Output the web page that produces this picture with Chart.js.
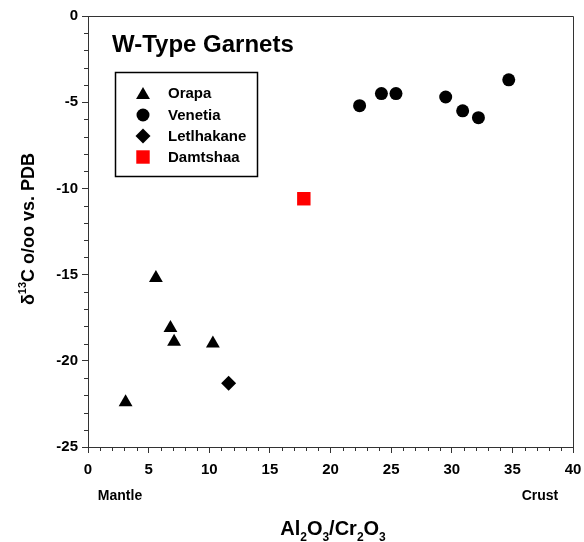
<!DOCTYPE html>
<html>
<head>
<meta charset="utf-8">
<script src="https://cdn.jsdelivr.net/npm/chart.js@4/dist/chart.umd.min.js"></script>
<style>
  body { margin: 0; background: #fff; }
  #wrap { width: 584px; height: 542px; }
</style>
</head>
<body>
<div id="wrap"><canvas id="chart" width="584" height="542"></canvas></div>
<script>
//data: [Al2O3/Cr2O3, d13C]
const orapa = [[3.1, -22.4], [5.6, -15.2], [6.8, -18.1], [7.1, -18.9], [10.3, -19.0]];
const venetia = [[22.4, -5.2], [24.2, -4.5], [25.4, -4.5], [29.5, -4.7], [30.9, -5.5], [32.2, -5.9], [34.7, -3.7]];
const letlhakane = [[11.6, -21.3]];
const damtshaa = [[17.8, -10.6]];

const seriesNames = ['Orapa', 'Venetia', 'Letlhakane', 'Damtshaa'];
const xTicks = [0, 5, 10, 15, 20, 25, 30, 35, 40];
const yTicks = [0, -5, -10, -15, -20, -25];

const FONT = '"Liberation Sans", Arial, sans-serif';

//turn [x, y] pairs into chart.js points
const toPoints = (arr) => arr.map((p) => ({ x: p[0], y: p[1] }));

//marker looks, shared by the chart and the hand drawn legend
const MARKERS = [
    { style: 'triangle', radius: 8, color: '#000' },
    { style: 'circle', radius: 6.5, color: '#000' },
    { style: 'rectRot', radius: 7.5, color: '#000' },
    { style: 'rect', radius: 9.5, color: '#ff0000' },
];

const drawMarker = (ctx, m, x, y) => {
    const r = m.radius;
    ctx.save();
    ctx.fillStyle = m.color;
    ctx.beginPath();
    if (m.style === 'triangle') {
        ctx.moveTo(x, y - r);
        ctx.lineTo(x + 0.866 * r, y + 0.5 * r);
        ctx.lineTo(x - 0.866 * r, y + 0.5 * r);
    } else if (m.style === 'circle') {
        ctx.arc(x, y, r, 0, Math.PI * 2);
    } else if (m.style === 'rectRot') {
        ctx.moveTo(x - r, y);
        ctx.lineTo(x, y - r);
        ctx.lineTo(x + r, y);
        ctx.lineTo(x, y + r);
    } else {
        const s = Math.SQRT1_2 * r;
        ctx.rect(x - s, y - s, 2 * s, 2 * s);
    }
    ctx.closePath();
    ctx.fill();
    ctx.restore();
};

//draws a list of [text, kind] pieces where kind is '', 'sub' or 'sup'
const pieceFont = (kind, size) => `bold ${kind ? Math.round(size * 0.62) : size}px ${FONT}`;
const measurePieces = (ctx, pieces, size) => pieces.reduce((w, p) => {
    ctx.font = pieceFont(p[1], size);
    return w + ctx.measureText(p[0]).width;
}, 0);
const drawPieces = (ctx, pieces, size, x, y) => {
    let cx = x;
    pieces.forEach((p) => {
        ctx.font = pieceFont(p[1], size);
        let dy = 0;
        if (p[1] === 'sub') dy = size * 0.3;
        if (p[1] === 'sup') dy = -size * 0.42;
        ctx.fillText(p[0], cx, y + dy);
        cx += ctx.measureText(p[0]).width;
    });
};

const extras = {
    id: 'extras',
    afterDraw(chart) {
        const ctx = chart.ctx;
        const area = chart.chartArea;
        const xs = chart.scales.x;
        const ys = chart.scales.y;
        ctx.save();

        //top and right frame lines
        ctx.strokeStyle = '#333';
        ctx.lineWidth = 1;
        ctx.beginPath();
        ctx.moveTo(area.left, area.top + 0.5);
        ctx.lineTo(area.right + 0.5, area.top + 0.5);
        ctx.lineTo(area.right + 0.5, area.bottom);
        ctx.stroke();

        //minor ticks, one every unit, shorter than the major ones
        ctx.beginPath();
        for (let v = xs.min; v <= xs.max; v++) {
            if (v % 5 === 0) continue;
            const px = Math.round(xs.getPixelForValue(v)) + 0.5;
            ctx.moveTo(px, area.bottom);
            ctx.lineTo(px, area.bottom + 4);
        }
        for (let v = ys.min; v <= ys.max; v++) {
            if (v % 5 === 0) continue;
            const py = Math.round(ys.getPixelForValue(v)) + 0.5;
            ctx.moveTo(area.left, py);
            ctx.lineTo(area.left - 4, py);
        }
        ctx.stroke();

        ctx.fillStyle = '#000';
        ctx.textBaseline = 'alphabetic';
        ctx.textAlign = 'left';

        //title inside the plot
        ctx.font = `bold 24px ${FONT}`;
        ctx.fillText('W-Type Garnets', 112, 52);

        //legend box
        ctx.strokeStyle = '#000';
        ctx.lineWidth = 1.5;
        ctx.strokeRect(115.5, 72.5, 142, 104);
        const rowsY = [93, 115, 136, 157];
        ctx.font = `bold 15px ${FONT}`;
        ctx.textBaseline = 'middle';
        seriesNames.forEach((name, i) => {
            drawMarker(ctx, MARKERS[i], 143, rowsY[i] + (i === 0 ? 2 : 0));
            ctx.fillStyle = '#000';
            ctx.fillText(name, 168, rowsY[i] + 1);
        });

        //end labels under the x axis
        ctx.textAlign = 'center';
        ctx.font = `bold 14px ${FONT}`;
        ctx.fillText('Mantle', 120, 496);
        ctx.fillText('Crust', 540, 496);

        //x axis title Al2O3/Cr2O3
        ctx.textAlign = 'left';
        ctx.textBaseline = 'alphabetic';
        const xPieces = [['Al', ''], ['2', 'sub'], ['O', ''], ['3', 'sub'], ['/Cr', ''], ['2', 'sub'], ['O', ''], ['3', 'sub']];
        const xw = measurePieces(ctx, xPieces, 20);
        drawPieces(ctx, xPieces, 20, 333 - xw / 2, 535);

        //y axis title, rotated
        const yPieces = [['\u03b4', ''], ['13', 'sup'], ['C o/oo vs. PDB', '']];
        const yw = measurePieces(ctx, yPieces, 18);
        ctx.translate(34, 229);
        ctx.rotate(-Math.PI / 2);
        drawPieces(ctx, yPieces, 18, -yw / 2, 0);

        ctx.restore();
    },
};

const makeSet = (label, arr, i) => ({
    label: label,
    data: toPoints(arr),
    pointStyle: MARKERS[i].style,
    pointRadius: MARKERS[i].radius,
    pointHoverRadius: MARKERS[i].radius,
    backgroundColor: MARKERS[i].color,
    borderColor: MARKERS[i].color,
    borderWidth: 0,
});

new Chart(document.getElementById('chart'), {
    type: 'scatter',
    data: {
        datasets: [
            makeSet(seriesNames[0], orapa, 0),
            makeSet(seriesNames[1], venetia, 1),
            makeSet(seriesNames[2], letlhakane, 2),
            makeSet(seriesNames[3], damtshaa, 3),
        ],
    },
    options: {
        responsive: false,
        animation: false,
        devicePixelRatio: 1,
        layout: { padding: { left: 0, top: 16, right: 11, bottom: 0 } },
        plugins: {
            legend: { display: false },
            tooltip: { enabled: false },
        },
        scales: {
            x: {
                type: 'linear',
                min: xTicks[0],
                max: xTicks[xTicks.length - 1],
                //fixed box so the plot area sits where it does in the picture
                afterFit: (s) => { s.height = 95; s.paddingLeft = 0; s.paddingRight = 0; },
                afterBuildTicks: (s) => { s.ticks = xTicks.map((v) => ({ value: v })); },
                border: { display: true, color: '#333', width: 1 },
                grid: { drawOnChartArea: false, tickLength: 6, color: '#333', tickColor: '#333' },
                ticks: {
                    autoSkip: false,
                    maxRotation: 0,
                    padding: 8,
                    color: '#000',
                    font: { family: FONT, size: 15, weight: 'bold' },
                },
            },
            y: {
                type: 'linear',
                min: yTicks[yTicks.length - 1],
                max: yTicks[0],
                afterFit: (s) => { s.width = 88; s.paddingTop = 0; s.paddingBottom = 0; },
                afterBuildTicks: (s) => { s.ticks = yTicks.map((v) => ({ value: v })); },
                border: { display: true, color: '#333', width: 1 },
                grid: { drawOnChartArea: false, tickLength: 6, color: '#333', tickColor: '#333' },
                ticks: {
                    autoSkip: false,
                    padding: 4,
                    color: '#000',
                    font: { family: FONT, size: 15, weight: 'bold' },
                },
            },
        },
    },
    plugins: [extras],
});
</script>
</body>
</html>
